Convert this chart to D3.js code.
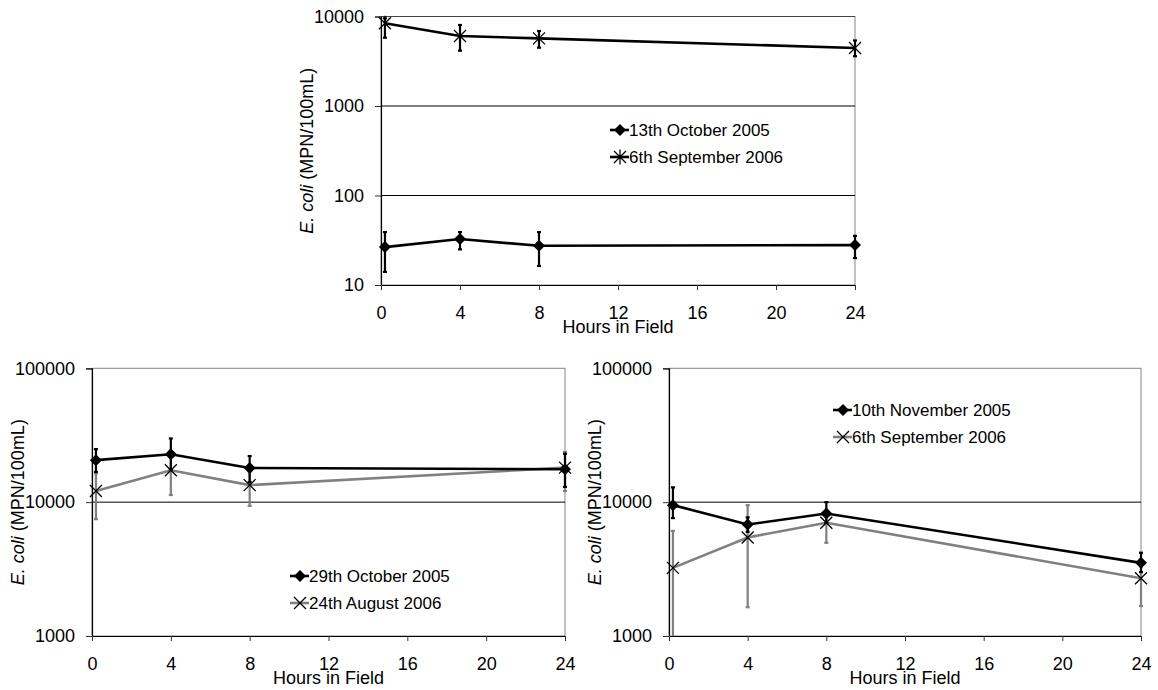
<!DOCTYPE html>
<html>
<head>
<meta charset="utf-8">
<script src="https://cdn.jsdelivr.net/npm/d3@7"></script>
<style>
  body { margin: 0; background: #fff; }
  svg text { font-family: "Liberation Sans", Arial, sans-serif; }
</style>
</head>
<body>
<div id="chart-area"></div>
<script>
// sampling times (hours in field)
var hours = [0.2, 4, 8, 24];
var xTicks = [0, 4, 8, 12, 16, 20, 24];

// top panel
var oct13 = [26.5, 32.6, 27.4, 27.9];
var oct13Lo = [14, 25, 16.3, 20];
var oct13Hi = [39, 39, 39, 35.4];
var sep6a = [8400, 6050, 5700, 4450];
var sep6aLo = [5800, 4150, 4480, 3600];
var sep6aHi = [9550, 8040, 6890, 5400];

// bottom left panel
var oct29 = [20600, 22800, 18000, 17600];
var oct29Lo = [16800, 17500, 14100, 13000];
var oct29Hi = [24900, 29900, 22100, 23000];
var aug24 = [12100, 17300, 13400, 18100];
var aug24Lo = [7460, 11300, 9390, 12100];
var aug24Hi = [16400, 23000, 17000, 23700];

// bottom right panel
var nov10 = [9500, 6810, 8230, 3520];
var nov10Lo = [7600, 6000, 7000, 3000];
var nov10Hi = [12900, 7700, 10000, 4190];
var sep6b = [3230, 5450, 7010, 2700];
var sep6bLo = [1, 1640, 4970, 1675];
var sep6bHi = [6100, 9500, 8500, 3300];

var svg = d3.select("#chart-area")
    .append("svg")
        .attr("width", 1158)
        .attr("height", 690);

function pts(vals, lo, hi) {
    return hours.map(function(h, i) {
        return { h: h, v: vals[i], lo: lo[i], hi: hi[i] };
    });
}

var panels = [
    {
        left: 381, right: 855, top: 16.5, bottom: 285,
        yDomain: [10, 10000], yTicks: [10, 100, 1000, 10000],
        legend: { x: 620, y: 130 },
        series: [
            { name: "13th October 2005", data: pts(oct13, oct13Lo, oct13Hi), color: "#000", marker: "diamond" },
            { name: "6th September 2006", data: pts(sep6a, sep6aLo, sep6aHi), color: "#000", marker: "star" }
        ]
    },
    {
        left: 92, right: 565, top: 368.3, bottom: 636,
        yDomain: [1000, 100000], yTicks: [1000, 10000, 100000],
        legend: { x: 300, y: 576 },
        series: [
            { name: "29th October 2005", data: pts(oct29, oct29Lo, oct29Hi), color: "#000", marker: "diamond" },
            { name: "24th August 2006", data: pts(aug24, aug24Lo, aug24Hi), color: "#808080", marker: "cross" }
        ]
    },
    {
        left: 669, right: 1141, top: 368.3, bottom: 636,
        yDomain: [1000, 100000], yTicks: [1000, 10000, 100000],
        legend: { x: 843, y: 410 },
        series: [
            { name: "10th November 2005", data: pts(nov10, nov10Lo, nov10Hi), color: "#000", marker: "diamond" },
            { name: "6th September 2006", data: pts(sep6b, sep6bLo, sep6bHi), color: "#808080", marker: "cross" }
        ]
    }
];

function drawMarker(g, type, x, y) {
    if (type === "diamond") {
        var r = 6;
        g.append("path")
            .attr("d", "M" + x + "," + (y - r) + "L" + (x + r) + "," + y + "L" + x + "," + (y + r) + "L" + (x - r) + "," + y + "Z")
            .attr("fill", "#000");
    } else {
        var s = 6;
        var p = "M" + (x - s) + "," + (y - s) + "L" + (x + s) + "," + (y + s) +
                "M" + (x - s) + "," + (y + s) + "L" + (x + s) + "," + (y - s);
        if (type === "star") p += "M" + x + "," + (y - 7.5) + "L" + x + "," + (y + 7.5);
        g.append("path")
            .attr("d", p)
            .attr("stroke", "#000")
            .attr("stroke-width", 1.3)
            .attr("fill", "none");
    }
}

panels.forEach(function(p) {
    var x = d3.scaleLinear().domain([0, 24]).range([p.left, p.right]);
    var y = d3.scaleLog().domain(p.yDomain).range([p.bottom, p.top]).clamp(true);
    var g = svg.append("g");

    // plot border (grey) and grid lines
    g.append("rect")
        .attr("x", p.left).attr("y", p.top)
        .attr("width", p.right - p.left).attr("height", p.bottom - p.top)
        .attr("fill", "none").attr("stroke", "#868686").attr("stroke-width", 1);
    g.selectAll(".grid")
        .data(p.yTicks.slice(1, -1))
        .enter()
        .append("line")
            .attr("x1", p.left).attr("x2", p.right)
            .attr("y1", function(d) { return y(d); })
            .attr("y2", function(d) { return y(d); })
            .attr("stroke", "#000").attr("stroke-width", 1);
    if (p.yTicks[p.yTicks.length - 1] === 10000) {
        g.append("line")
            .attr("x1", p.left).attr("x2", p.right)
            .attr("y1", p.top).attr("y2", p.top)
            .attr("stroke", "#444").attr("stroke-width", 1);
    }

    // axes
    var yAxis = d3.axisLeft(y)
        .tickValues(p.yTicks)
        .tickFormat(d3.format("d"))
        .tickSize(6)
        .tickPadding(11);
    var ya = g.append("g")
        .attr("transform", "translate(" + p.left + ",0)")
        .call(yAxis);
    var xAxis = d3.axisBottom(x)
        .tickValues(xTicks)
        .tickSize(5)
        .tickPadding(16)
        .tickSizeOuter(0);
    var xa = g.append("g")
        .attr("transform", "translate(0," + p.bottom + ")")
        .call(xAxis);
    [ya, xa].forEach(function(a) {
        a.select(".domain").attr("stroke", "#000").attr("stroke-width", 1.2);
        a.selectAll(".tick line").attr("stroke", "#333");
        a.selectAll("text")
            .attr("font-size", 18)
            .attr("fill", "#000")
            .style("font-family", "'Liberation Sans', Arial, sans-serif");
    });

    // axis titles
    g.append("text")
        .attr("x", (p.left + p.right) / 2)
        .attr("y", p.bottom + 48)
        .attr("text-anchor", "middle")
        .attr("font-size", 18)
        .text("Hours in Field");
    var yt = g.append("text")
        .attr("transform", "translate(" + (p.left - 68) + "," + ((p.top + p.bottom) / 2) + ") rotate(-90)")
        .attr("text-anchor", "middle")
        .attr("font-size", 18);
    yt.append("tspan").attr("font-style", "italic").text("E. coli");
    yt.append("tspan").text(" (MPN/100mL)");

    var line = d3.line()
        .x(function(d) { return x(d.h); })
        .y(function(d) { return y(d.v); });

    // second series underneath, first on top
    p.series.slice().reverse().forEach(function(s) {
        var sg = g.append("g");
        sg.append("path")
            .datum(s.data)
            .attr("d", line)
            .attr("fill", "none")
            .attr("stroke", s.color)
            .attr("stroke-width", 2.6);
        s.data.forEach(function(d) {
            var xx = x(d.h);
            sg.append("line")
                .attr("x1", xx).attr("x2", xx)
                .attr("y1", y(d.lo)).attr("y2", y(d.hi))
                .attr("stroke", s.color).attr("stroke-width", 2.2);
            [d.lo, d.hi].forEach(function(v) {
                if (v < p.yDomain[0]) return;
                sg.append("line")
                    .attr("x1", xx - 2).attr("x2", xx + 2)
                    .attr("y1", y(v)).attr("y2", y(v))
                    .attr("stroke", s.color).attr("stroke-width", 2.2);
            });
            drawMarker(sg, s.marker, xx, y(d.v));
        });
    });

    // legend
    p.series.forEach(function(s, i) {
        var ly = p.legend.y + i * 27;
        var lx = p.legend.x;
        g.append("line")
            .attr("x1", lx - 10).attr("x2", lx + 9)
            .attr("y1", ly).attr("y2", ly)
            .attr("stroke", s.color).attr("stroke-width", 2.6);
        drawMarker(g, s.marker, lx, ly);
        g.append("text")
            .attr("x", lx + 9)
            .attr("y", ly + 6)
            .attr("font-size", 17)
            .text(s.name);
    });
});
</script>
</body>
</html>
